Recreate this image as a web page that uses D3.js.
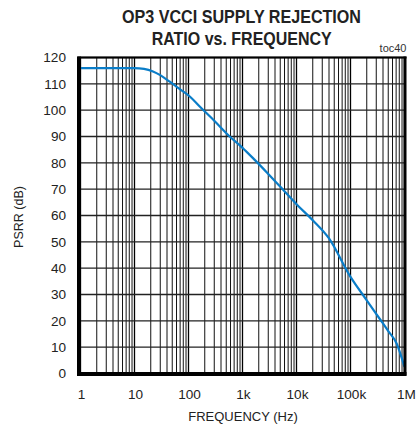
<!DOCTYPE html>
<html><head><meta charset="utf-8">
<script src="https://cdn.jsdelivr.net/npm/d3@7"></script>
<style>body{margin:0;background:#fff}svg{display:block;font-family:"Liberation Sans",Arial,sans-serif}</style>
</head><body>
<svg id="c" width="417" height="433"></svg>
<script>
const freqs = [1, 5, 10, 15, 22, 30, 45, 70, 107, 163, 300, 587, 1000, 1580, 3000, 5700, 10000, 20000, 40000, 98000, 200000, 352000, 500000, 718000, 1000000];
const psrr  = [116, 116, 116, 115.7, 114.7, 113.3, 110.8, 107.9, 105.1, 101.3, 96, 89.9, 85.7, 81.7, 75.8, 69.7, 64.3, 58.2, 51.3, 37, 27.8, 20.6, 16.1, 11.3, 2.5];
const xTickVals = [1, 10, 100, 1000, 10000, 100000, 1000000];
const xTickLabels = ["1", "10", "100", "1k", "10k", "100k", "1M"];
const yTickVals = [0, 10, 20, 30, 40, 50, 60, 70, 80, 90, 100, 110, 120];

const svg = d3.select("#c");
const L = 80.5, R = 404.5, T = 57.5, B = 373.5;
const x = d3.scaleLog().domain([1, 1e6]).range([L, R]);
const y = d3.scaleLinear().domain([0, 120]).range([B, T]);

// minor vertical grid
const minor = [];
for (let d = 1; d < 1e6; d *= 10) for (let k = 2; k <= 9; k++) minor.push(d * k);
const g = svg.append("g");
g.selectAll(".vm").data(minor).enter().append("line")
  .attr("x1", d => x(d)).attr("x2", d => x(d)).attr("y1", T).attr("y2", B)
  .attr("stroke", "#111").attr("stroke-width", 1);
g.selectAll(".vM").data(xTickVals).enter().append("line")
  .attr("x1", d => x(d)).attr("x2", d => x(d)).attr("y1", T).attr("y2", B)
  .attr("stroke", "#000").attr("stroke-width", 1.3);
g.selectAll(".h").data(yTickVals).enter().append("line")
  .attr("x1", L).attr("x2", R).attr("y1", d => y(d)).attr("y2", d => y(d))
  .attr("stroke", "#222").attr("stroke-width", 1.3);

// curve
const line = d3.line().x((d, i) => x(freqs[i])).y(d => y(d)).curve(d3.curveMonotoneX);
svg.append("path").datum(psrr).attr("d", line)
  .attr("fill", "none").attr("stroke", "#0a7dc8").attr("stroke-width", 2.2);

// frame
svg.append("line").attr("x1", L - 1.5).attr("x2", L - 1.5).attr("y1", T - 1).attr("y2", B + 2).attr("stroke", "#000").attr("stroke-width", 4);
svg.append("line").attr("x1", L - 3.5).attr("x2", R + 2).attr("y1", B + 0.5).attr("y2", B + 0.5).attr("stroke", "#000").attr("stroke-width", 4);
svg.append("line").attr("x1", L - 3).attr("x2", R + 2).attr("y1", T).attr("y2", T).attr("stroke", "#000").attr("stroke-width", 2);
svg.append("line").attr("x1", R + 0.5).attr("x2", R + 0.5).attr("y1", T - 1).attr("y2", B + 2).attr("stroke", "#000").attr("stroke-width", 3);

// y ticks
svg.selectAll(".yt").data(yTickVals).enter().append("text")
  .attr("x", 66).attr("y", d => y(d)).attr("dy", "0.35em")
  .attr("text-anchor", "end").attr("font-size", 13.6).attr("fill", "#222")
  .text(d => d);
// x ticks
svg.selectAll(".xt").data(xTickVals).enter().append("text")
  .attr("x", d => x(d) + (d === 1e6 ? 2 : 1)).attr("y", 398.5)
  .attr("text-anchor", "middle").attr("font-size", 13.6).attr("fill", "#222")
  .text((d, i) => xTickLabels[i]);

svg.append("text").attr("x", 243).attr("y", 421).attr("text-anchor", "middle")
  .attr("font-size", 13).attr("fill", "#222").text("FREQUENCY (Hz)");
svg.append("text").attr("transform", "translate(23,217) rotate(-90)")
  .attr("text-anchor", "middle").attr("font-size", 12.5).attr("fill", "#222").text("PSRR (dB)");

svg.append("text").attr("x", 122).attr("y", 22.7).attr("font-size", 18.5).attr("font-weight", "bold")
  .attr("fill", "#222").attr("textLength", 239).attr("lengthAdjust", "spacingAndGlyphs")
  .text("OP3 VCCI SUPPLY REJECTION");
svg.append("text").attr("x", 151.7).attr("y", 45).attr("font-size", 18.5).attr("font-weight", "bold")
  .attr("fill", "#222").attr("textLength", 180).attr("lengthAdjust", "spacingAndGlyphs")
  .text("RATIO vs. FREQUENCY");
svg.append("text").attr("x", 406.5).attr("y", 51.5).attr("text-anchor", "end")
  .attr("font-size", 11).attr("fill", "#333").text("toc40");
</script>
</body></html>
